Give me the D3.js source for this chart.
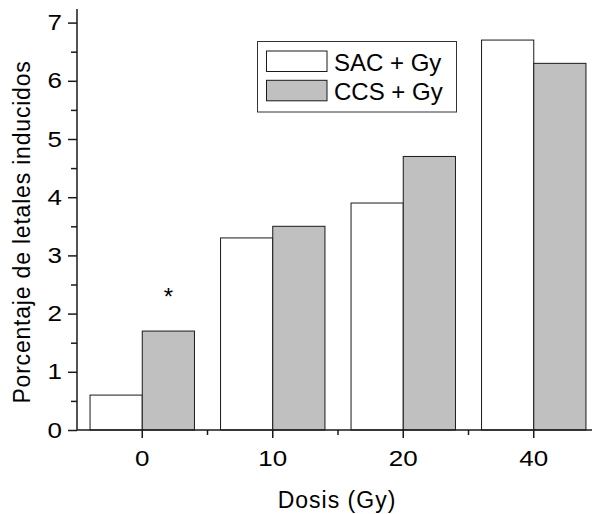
<!DOCTYPE html>
<html>
<head>
<meta charset="utf-8">
<script src="https://cdn.jsdelivr.net/npm/d3@7"></script>
<style>
  body { margin: 0; background: #fff; }
  svg text { font-family: "Liberation Sans", Arial, sans-serif; fill: #000; }
</style>
</head>
<body>
<svg width="592" height="514"></svg>
<script>
const doses = ['0', '10', '20', '40'];
const sacValues = [0.6, 3.3, 3.9, 6.7];
const ccsValues = [1.7, 3.5, 4.7, 6.3];
const seriesNames = ['SAC + Gy', 'CCS + Gy'];
const yTicks = [0, 1, 2, 3, 4, 5, 6, 7];
// significance mark over the CCS bar at dose 0
const marks = [{dose: '0', series: 1, value: 2.25, text: '*'}];

let svg = d3.select('svg');

const plotLeft = 77, plotBottom = 430, plotTop = 9;
const colors = ['#ffffff', '#c0c0c0'];
const stretch = 1.18; // tick digits in the original are a bit wide

let x = d3.scaleBand()
    .domain(doses)
    .range([plotLeft, plotLeft + 4 * 130.5])
    .paddingInner(0.2)
    .paddingOuter(0.1);

let y = d3.scaleLinear()
    .domain([0, 7])
    .range([plotBottom, plotBottom - 7 * 58.2]);

const barW = x.bandwidth() / 2;
const series = [sacValues, ccsValues];

// bars
series.forEach((vals, s) => {
  svg.append('g')
    .selectAll('rect')
    .data(doses)
    .enter().append('rect')
      .attr('x', (d) => x(d) + s * barW)
      .attr('y', (d, i) => y(vals[i]))
      .attr('width', barW)
      .attr('height', (d, i) => plotBottom - y(vals[i]))
      .attr('fill', colors[s])
      .attr('stroke', '#1a1a1a')
      .attr('stroke-width', 1);
});

// y axis
let yAxis = svg.append('g')
    .attr('transform', `translate(${plotLeft}, 0)`)
    .call(d3.axisLeft(y).tickValues(yTicks).tickSize(9).tickPadding(6).tickFormat(d3.format('d')));
yAxis.select('.domain').attr('d', `M0,${plotBottom}V${plotTop}`);
yAxis.selectAll('.tick text')
    .attr('x', -15 / stretch)
    .attr('transform', `scale(${stretch},1)`);
svg.append('g')
    .attr('transform', `translate(${plotLeft}, 0)`)
    .call(d3.axisLeft(y).tickValues(yTicks.slice(0, -1).map((d) => d + 0.5)).tickSize(6).tickFormat(''))
    .select('.domain').remove();

// x axis
let xAxis = svg.append('g')
    .attr('transform', `translate(0, ${plotBottom})`)
    .call(d3.axisBottom(x).tickSize(8).tickPadding(12));
xAxis.select('.domain').attr('d', `M${plotLeft},0H592`);
xAxis.selectAll('.tick text').attr('transform', `scale(${stretch},1)`);
svg.append('g')
    .attr('transform', `translate(0, ${plotBottom})`)
    .selectAll('line')
    .data(doses.slice(0, -1))
    .enter().append('line')
      .attr('x1', (d) => x(d) + x.step() * 0.9)
      .attr('x2', (d) => x(d) + x.step() * 0.9)
      .attr('y1', 0)
      .attr('y2', 5)
      .attr('stroke', '#1a1a1a')
      .attr('stroke-width', 1.5);

svg.selectAll('.domain, .tick line').attr('stroke', '#1a1a1a').attr('stroke-width', 1.5);
svg.selectAll('.tick text').style('font-size', '22px').attr('fill', '#000');

// asterisk
svg.selectAll('.mark')
  .data(marks)
  .enter().append('text')
    .attr('class', 'mark')
    .attr('x', (d) => x(d.dose) + (d.series + 0.5) * barW)
    .attr('y', (d) => y(d.value) + 6)
    .attr('text-anchor', 'middle')
    .style('font-size', '24px')
    .text((d) => d.text);

// axis titles
svg.append('text')
    .attr('transform', `translate(30, 232) rotate(-90)`)
    .attr('text-anchor', 'middle')
    .style('font-size', '23px')
    .style('letter-spacing', '0.8px')
    .text('Porcentaje de letales inducidos');

svg.append('text')
    .attr('x', 337)
    .attr('y', 508)
    .attr('text-anchor', 'middle')
    .style('font-size', '23px')
    .style('letter-spacing', '1px')
    .text('Dosis (Gy)');

// legend
let legend = svg.append('g');
legend.append('rect')
    .attr('x', 257.5).attr('y', 41.5)
    .attr('width', 199).attr('height', 70.5)
    .attr('fill', '#fff').attr('stroke', '#333').attr('stroke-width', 1);
seriesNames.forEach((name, s) => {
  legend.append('rect')
      .attr('x', 266.5).attr('y', 51 + s * 29.3)
      .attr('width', 60.5).attr('height', 20.5)
      .attr('fill', colors[s]).attr('stroke', '#1a1a1a');
  legend.append('text')
      .attr('x', 334)
      .attr('y', 70.5 + s * 29.5)
      .style('font-size', '24px')
      .text(name);
});
</script>
</body>
</html>
